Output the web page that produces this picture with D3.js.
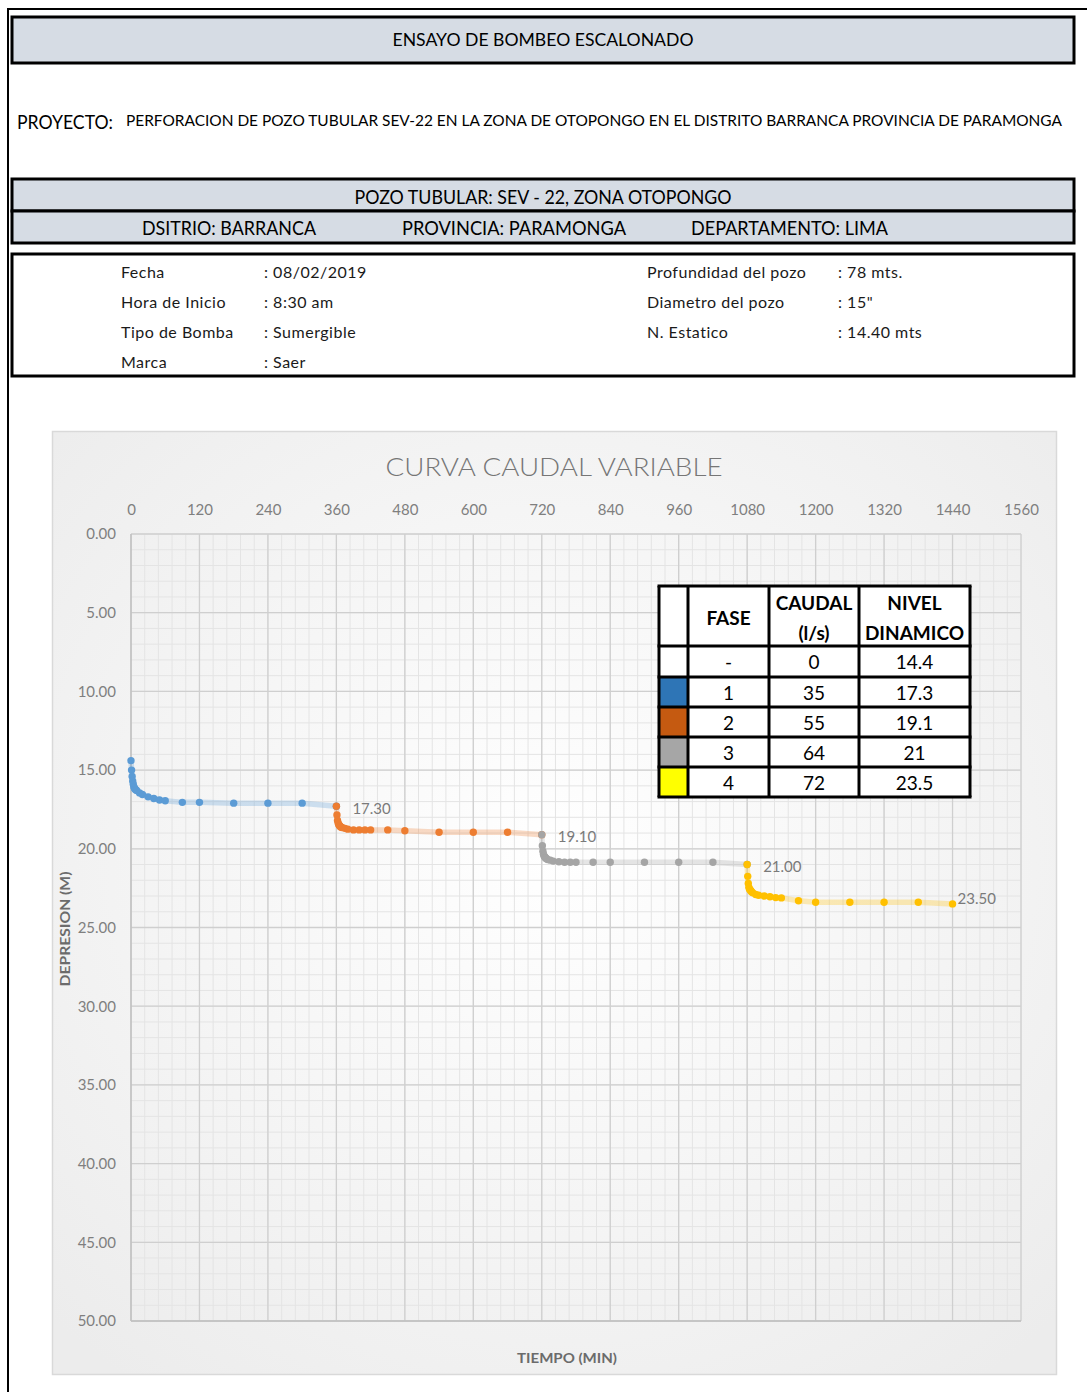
<!DOCTYPE html>
<html>
<head>
<meta charset="utf-8">
<script src="https://cdn.jsdelivr.net/npm/d3@7"></script>
<style>
  body { margin: 0; background: #ffffff; }
  svg { display: block; }
</style>
</head>
<body>
<svg id="hoja" width="1087" height="1392"></svg>
<script>
// ---------- Datos del ensayo ----------
const fases = ["1", "2", "3", "4"];
const inicioFase = [0, 360, 720, 1080];               // minuto de inicio de cada fase
const minutosLectura = [0, 1, 2, 3, 4, 5, 6, 7, 8, 10, 15, 20, 30, 40, 50, 60, 90, 120, 180, 240, 300, 360];
const depresionFase1 = [14.40, 15.00, 15.40, 15.70, 15.90, 16.05, 16.15, 16.20, 16.25, 16.30, 16.45,
                        16.55, 16.70, 16.80, 16.90, 16.95, 17.05, 17.05, 17.10, 17.10, 17.10, 17.30];
const depresionFase2 = [17.30, 17.85, 18.20, 18.35, 18.45, 18.50, 18.55, 18.60, 18.62, 18.65, 18.70,
                        18.75, 18.80, 18.80, 18.80, 18.80, 18.80, 18.85, 18.95, 18.95, 18.95, 19.10];
const depresionFase3 = [19.10, 19.80, 20.15, 20.35, 20.45, 20.50, 20.55, 20.60, 20.62, 20.68, 20.72,
                        20.78, 20.82, 20.85, 20.85, 20.85, 20.85, 20.85, 20.85, 20.85, 20.85, 21.00];
const depresionFase4 = [21.00, 21.75, 22.20, 22.45, 22.55, 22.60, 22.65, 22.70, 22.75, 22.80, 22.90,
                        22.95, 23.00, 23.05, 23.10, 23.12, 23.30, 23.40, 23.40, 23.40, 23.40, 23.50];
const depresiones = [depresionFase1, depresionFase2, depresionFase3, depresionFase4];

const ticksTiempo = [0, 120, 240, 360, 480, 600, 720, 840, 960, 1080, 1200, 1320, 1440, 1560];
const ticksDepresion = [0, 5, 10, 15, 20, 25, 30, 35, 40, 45, 50];

// Tabla resumen de fases
const tablaFase = ["-", "1", "2", "3", "4"];
const tablaCaudal = ["0", "35", "55", "64", "72"];
const tablaNivel = ["14.4", "17.3", "19.1", "21", "23.5"];

// Datos generales del pozo
const datosIzq = [["Fecha", ": 08/02/2019"], ["Hora de Inicio", ": 8:30 am"],
                  ["Tipo de Bomba", ": Sumergible"], ["Marca", ": Saer"]];
const datosDer = [["Profundidad del pozo", ": 78 mts."], ["Diametro del pozo", ": 15\""],
                  ["N. Estatico", ": 14.40 mts"]];

// ---------- Estilo ----------
const FUENTE = "Lato, 'Open Sans', 'Liberation Sans', sans-serif";
const coloresSerie = ["#5b9bd5", "#ed7d31", "#a5a5a5", "#ffc000"];
const coloresTabla = ["#ffffff", "#2e75b6", "#c55a11", "#a6a6a6", "#ffff00"];
const GRIS_CABECERA = "#d6dce4";

const svg = d3.select("#hoja").style("font-family", FUENTE);

// Ajusta un texto a un ancho dado
function ancho(sel, w) {
  return sel.attr("textLength", w).attr("lengthAdjust", "spacingAndGlyphs");
}

// ---------- Encabezado de la hoja ----------
svg.append("line").attr("x1", 8).attr("x2", 1087).attr("y1", 9).attr("y2", 9)
  .attr("stroke", "#000").attr("stroke-width", 2);
svg.append("line").attr("x1", 8).attr("x2", 8).attr("y1", 8).attr("y2", 1392)
  .attr("stroke", "#000").attr("stroke-width", 2);

function caja(y, h, relleno, grosor) {
  svg.append("rect").attr("x", 12).attr("y", y).attr("width", 1062).attr("height", h)
    .attr("fill", relleno).attr("stroke", "#000").attr("stroke-width", grosor);
}
caja(17, 46, GRIS_CABECERA, 3);
caja(179, 32, GRIS_CABECERA, 3);
caja(211, 32, GRIS_CABECERA, 3);
caja(254, 122, "#ffffff", 3);

function texto(x, y, t, size, anchor) {
  return svg.append("text").attr("x", x).attr("y", y).attr("dy", "0.35em")
    .attr("font-size", size).attr("fill", "#000").attr("text-anchor", anchor || "start").text(t);
}
ancho(texto(543, 40, "ENSAYO DE BOMBEO ESCALONADO", 18, "middle"), 301);
ancho(texto(17, 122, "PROYECTO:", 19), 96);
ancho(texto(126, 121, "PERFORACION DE POZO TUBULAR SEV-22 EN LA ZONA DE OTOPONGO EN EL DISTRITO BARRANCA PROVINCIA DE PARAMONGA", 15.5), 936);
ancho(texto(543, 197, "POZO TUBULAR: SEV - 22, ZONA OTOPONGO", 19, "middle"), 377);
ancho(texto(229, 228, "DSITRIO: BARRANCA", 19, "middle"), 174);
ancho(texto(514, 228, "PROVINCIA: PARAMONGA", 19, "middle"), 224);
ancho(texto(789.5, 228, "DEPARTAMENTO: LIMA", 19, "middle"), 197);

datosIzq.forEach((d, i) => {
  texto(121, 272 + i * 30, d[0], 16).attr("letter-spacing", 0.5).attr("fill", "#1a1a1a");
  texto(264, 272 + i * 30, d[1], 16).attr("letter-spacing", 0.5).attr("fill", "#1a1a1a");
});
datosDer.forEach((d, i) => {
  texto(647, 272 + i * 30, d[0], 16).attr("letter-spacing", 0.5).attr("fill", "#1a1a1a");
  texto(838, 272 + i * 30, d[1], 16).attr("letter-spacing", 0.5).attr("fill", "#1a1a1a");
});

// ---------- Área del gráfico ----------
const defs = svg.append("defs");
const grad = defs.append("radialGradient").attr("id", "fondo")
  .attr("cx", "50%").attr("cy", "45%").attr("r", "70%");
grad.append("stop").attr("offset", "0%").attr("stop-color", "#ffffff");
grad.append("stop").attr("offset", "100%").attr("stop-color", "#ececec");

svg.append("rect").attr("x", 52.5).attr("y", 431.5).attr("width", 1004).attr("height", 943)
  .attr("fill", "url(#fondo)").attr("stroke", "#d9d9d9").attr("stroke-width", 1.5);

ancho(svg.append("text").attr("x", 554).attr("y", 467).attr("dy", "0.35em")
  .attr("text-anchor", "middle").attr("font-size", 26).attr("font-weight", 300)
  .attr("fill", "#767676").text("CURVA CAUDAL VARIABLE"), 337);

const x = d3.scaleLinear().domain([0, 1560]).range([131, 1021]);
const y = d3.scaleLinear().domain([0, 50]).range([534, 1321]);

// Rejilla secundaria
const g = svg.append("g");
g.selectAll("line.vmin").data(d3.range(0, 1561, 24)).join("line")
  .attr("x1", d => x(d)).attr("x2", d => x(d)).attr("y1", y(0)).attr("y2", y(50))
  .attr("stroke", "#e4e4e4").attr("stroke-width", 1);
g.selectAll("line.hmin").data(d3.range(0, 51, 1)).join("line")
  .attr("x1", x(0)).attr("x2", x(1560)).attr("y1", d => y(d)).attr("y2", d => y(d))
  .attr("stroke", "#e4e4e4").attr("stroke-width", 1);
// Rejilla principal
g.selectAll("line.vmaj").data(ticksTiempo).join("line")
  .attr("x1", d => x(d)).attr("x2", d => x(d)).attr("y1", y(0)).attr("y2", y(50))
  .attr("stroke", "#cfcfcf").attr("stroke-width", 1.3);
g.selectAll("line.hmaj").data(ticksDepresion).join("line")
  .attr("x1", x(0)).attr("x2", x(1560)).attr("y1", d => y(d)).attr("y2", d => y(d))
  .attr("stroke", "#cfcfcf").attr("stroke-width", 1.3);
// Ejes
svg.append("line").attr("x1", x(0)).attr("x2", x(0)).attr("y1", y(0)).attr("y2", y(50))
  .attr("stroke", "#bfbfbf").attr("stroke-width", 1.3);
svg.append("line").attr("x1", x(0)).attr("x2", x(1560)).attr("y1", y(50)).attr("y2", y(50))
  .attr("stroke", "#bfbfbf").attr("stroke-width", 1.3);

const ejeX = svg.append("g").attr("transform", `translate(0,${y(0)})`)
  .call(d3.axisTop(x).tickValues(ticksTiempo).tickFormat(d3.format("d")).tickSize(0).tickPadding(19));
const ejeY = svg.append("g").attr("transform", `translate(${x(0)},0)`)
  .call(d3.axisLeft(y).tickValues(ticksDepresion).tickFormat(d3.format(".2f")).tickSize(0).tickPadding(15));
[ejeX, ejeY].forEach(e => {
  e.select(".domain").remove();
  e.selectAll("text").attr("font-size", 15).attr("fill", "#7f7f7f").attr("font-family", FUENTE);
});

ancho(svg.append("text").attr("transform", "translate(65,929) rotate(-90)").attr("dy", "0.35em")
  .attr("text-anchor", "middle").attr("font-size", 14).attr("font-weight", 700)
  .attr("fill", "#6b6b6b").text("DEPRESION (M)"), 115);
ancho(svg.append("text").attr("x", 567).attr("y", 1358).attr("dy", "0.35em")
  .attr("text-anchor", "middle").attr("font-size", 14).attr("font-weight", 700)
  .attr("fill", "#6b6b6b").text("TIEMPO (MIN)"), 100);

// ---------- Series ----------
const series = fases.map((f, i) => minutosLectura.map((m, k) => ({ t: inicioFase[i] + m, d: depresiones[i][k] })));
const linea = d3.line().x(p => x(p.t)).y(p => y(p.d));

const gSeries = svg.append("g");
series.forEach((s, i) => {
  gSeries.append("path").datum(s).attr("d", linea).attr("fill", "none")
    .attr("stroke", coloresSerie[i]).attr("stroke-opacity", 0.28).attr("stroke-width", 5.5)
    .attr("stroke-linejoin", "round");
});
series.forEach((s, i) => {
  gSeries.append("g").selectAll("circle").data(s).join("circle")
    .attr("cx", p => x(p.t)).attr("cy", p => y(p.d)).attr("r", 3.7)
    .attr("fill", coloresSerie[i]);
});

// Etiquetas del nivel final de cada fase
series.forEach((s, i) => {
  const p = s[s.length - 1];
  const ultima = i === series.length - 1;
  svg.append("text")
    .attr("x", x(p.t) + (ultima ? 5 : 16))
    .attr("y", y(p.d) + (ultima ? -5 : 2))
    .attr("dy", "0.35em").attr("font-size", 15).attr("fill", "#7a7a7a")
    .text(d3.format(".2f")(p.d));
});

// ---------- Tabla resumen ----------
const colX = [659, 688, 769, 859, 970];
const filaY = [586, 646, 677, 707, 737, 767, 797];
const tabla = svg.append("g");
tabla.append("rect").attr("x", colX[0]).attr("y", filaY[0])
  .attr("width", colX[4] - colX[0]).attr("height", filaY[6] - filaY[0]).attr("fill", "#ffffff");
tablaFase.forEach((f, i) => {
  tabla.append("rect").attr("x", colX[0]).attr("y", filaY[i + 1])
    .attr("width", colX[1] - colX[0]).attr("height", filaY[i + 2] - filaY[i + 1])
    .attr("fill", coloresTabla[i]);
});
// Líneas de la tabla
colX.forEach(cx => tabla.append("line").attr("x1", cx).attr("x2", cx)
  .attr("y1", filaY[0]).attr("y2", filaY[6]).attr("stroke", "#000").attr("stroke-width", 3));
filaY.forEach(cy => tabla.append("line").attr("x1", colX[0] - 1.5).attr("x2", colX[4] + 1.5)
  .attr("y1", cy).attr("y2", cy).attr("stroke", "#000").attr("stroke-width", 3));

const centro = c => (colX[c] + colX[c + 1]) / 2;
function celda(cx, cy, t, negrita) {
  tabla.append("text").attr("x", cx).attr("y", cy).attr("dy", "0.35em")
    .attr("text-anchor", "middle").attr("font-size", 19)
    .attr("font-weight", negrita ? 700 : 400).attr("fill", "#000").text(t);
}
celda(centro(1), 618, "FASE", true);
celda(centro(2), 603, "CAUDAL", true);
celda(centro(2), 633, "(l/s)", true);
celda(centro(3), 603, "NIVEL", true);
celda(centro(3), 633, "DINAMICO", true);
tablaFase.forEach((f, i) => {
  const cy = (filaY[i + 1] + filaY[i + 2]) / 2 + 1;
  celda(centro(1), cy, f, false);
  celda(centro(2), cy, tablaCaudal[i], false);
  celda(centro(3), cy, tablaNivel[i], false);
});
</script>
</body>
</html>
